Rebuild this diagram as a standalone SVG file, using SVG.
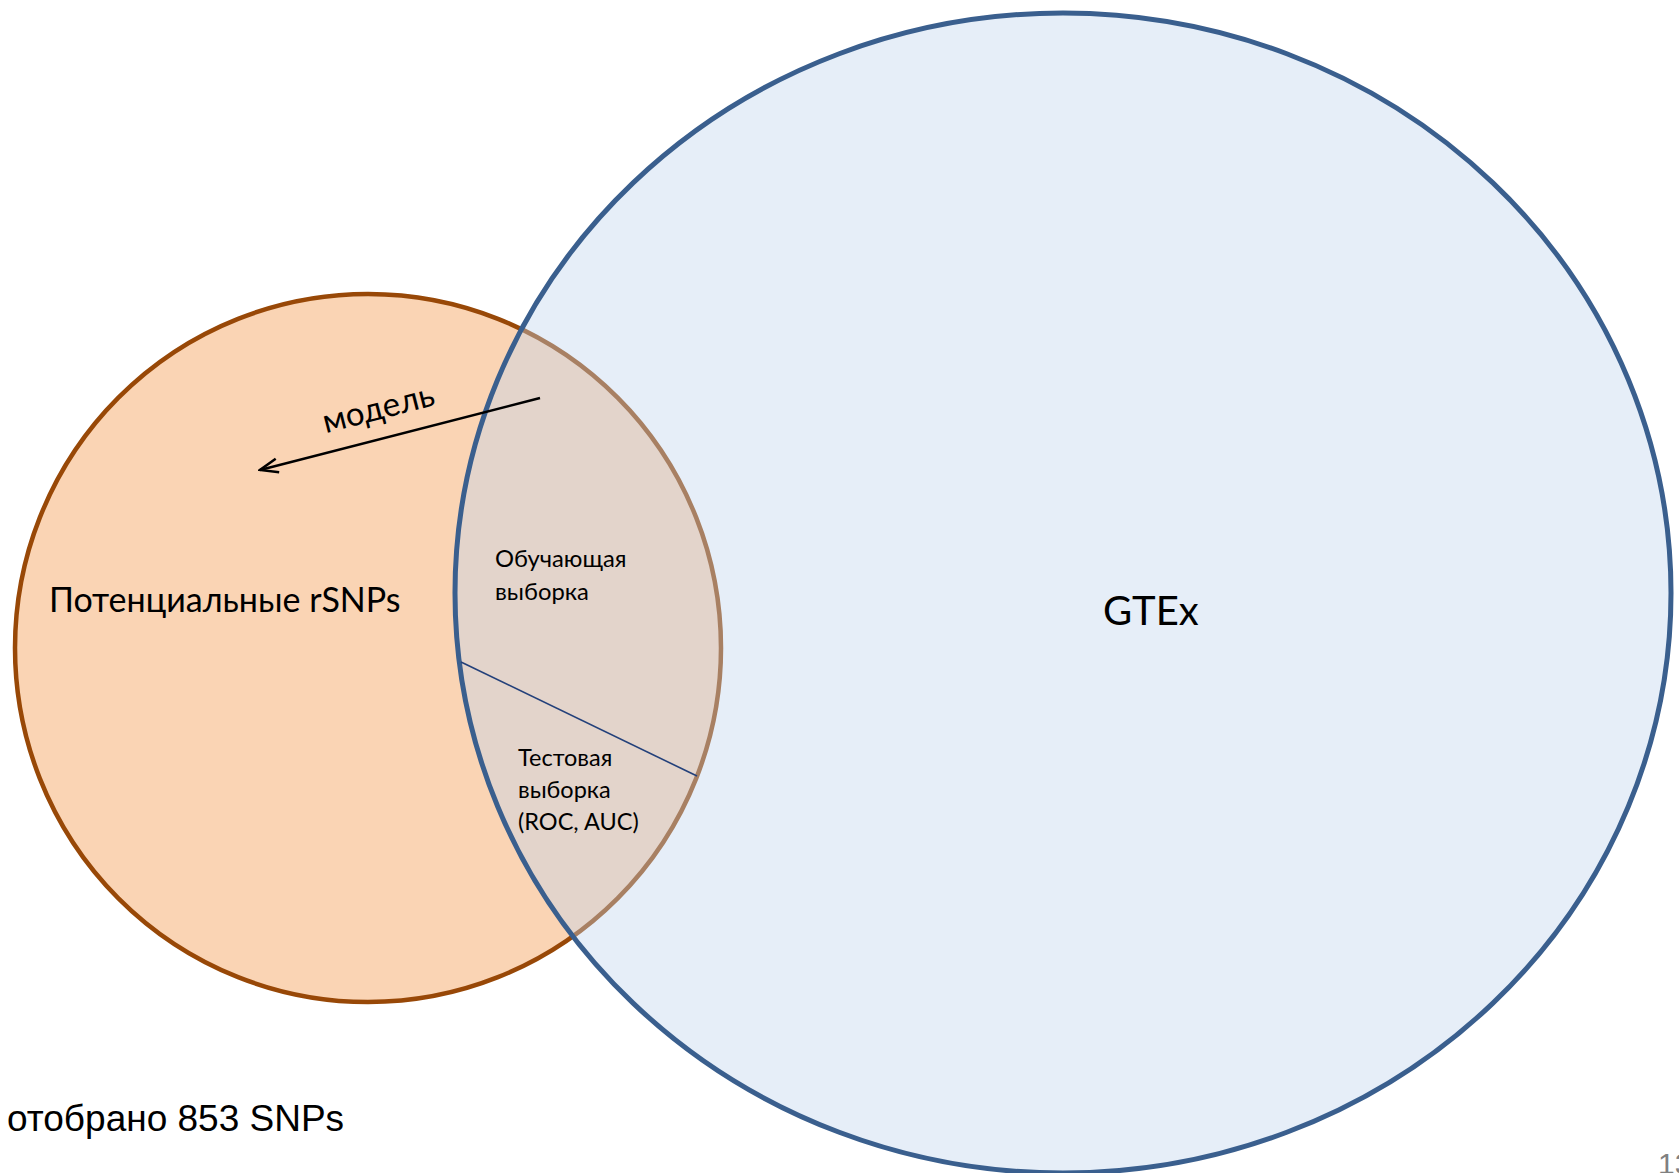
<svg xmlns="http://www.w3.org/2000/svg" width="1679" height="1173" viewBox="0 0 1679 1173">
<style>
.cal{font-family:Lato,"Open Sans","Noto Sans",sans-serif;fill:#000}
.ar{font-family:"Liberation Sans",Arial,sans-serif}
</style>
<defs>
<marker id="open" markerWidth="22" markerHeight="22" refX="20" refY="11" orient="auto" markerUnits="userSpaceOnUse">
<path d="M2,4 L20,11 L2,18" fill="none" stroke="#000" stroke-width="2.5"/>
</marker>
</defs>
<rect width="1679" height="1173" fill="#fff"/>
<g id="rsnps">
<ellipse cx="368" cy="648" rx="353" ry="354" fill="#fad4b4" stroke="#984807" stroke-width="4.5"/>
</g>
<g id="gtex">
<ellipse cx="1063" cy="593" rx="608" ry="580" fill="#c0d4ed" fill-opacity="0.4" stroke="#3a5f8e" stroke-width="5"/>
</g>
<g id="connectors">
<line x1="461" y1="662" x2="697" y2="776" stroke="#23407a" stroke-width="1.6"/>
<line x1="540" y1="398" x2="260" y2="470" stroke="#000" stroke-width="2.5" marker-end="url(#open)"/>
</g>
<g id="labels">
<text class="cal" x="49" y="612" font-size="34">Потенциальные rSNPs</text>
<text class="cal" x="381" y="419" font-size="33" text-anchor="middle" transform="rotate(-14.4 381 419)">модель</text>
<text class="cal" x="495" y="567" font-size="23.8">Обучающая</text>
<text class="cal" x="495" y="600" font-size="23.8">выборка</text>
<text class="cal" x="518" y="766" font-size="23.5">Тестовая</text>
<text class="cal" x="518" y="798" font-size="23.5">выборка</text>
<text class="cal" x="518" y="830" font-size="23.5">(ROC, AUC)</text>
<text class="cal" x="1103" y="625" font-size="40">GTEx</text>
<text class="ar" x="7" y="1131" font-size="37" fill="#000">отобрано 853 SNPs</text>
<text class="ar" x="1658" y="1174" font-size="30" fill="#808080">13</text>
</g>
</svg>
